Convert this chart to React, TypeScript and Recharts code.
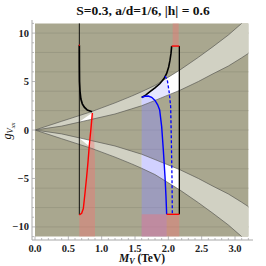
import React from "react";
import { ComposedChart, Area, Line, XAxis, YAxis } from "recharts";

// plot region and background mesh
const plotX = [0, 3.2];
const plotLo = [-11, -11];
const plotHi = [11, 11];
const gridY = [-10, -8, -6, -4, -2, 0, 2, 4, 6, 8, 10];

// light bands (upper and lower)
const bandX = [0, 0.4, 0.85, 1.2, 1.45, 1.6, 1.8, 2.175, 2.45, 2.67, 2.9, 3.1, 3.2];
const upOuter = [0, 0.9, 1.9, 2.8, 3.5, 3.95, 4.6, 6.2, 7.5, 8.6, 9.8, 11, 11];
const upInner = [0, 0.4, 1.1, 1.65, 2.18, 2.5, 3.05, 4.1, 5.0, 5.8, 6.6, 7.45, 7.9];
const lowOuter = [0, -0.9, -1.9, -2.8, -3.5, -3.95, -4.6, -6.2, -7.5, -8.6, -9.8, -11, -11];
const lowInner = [0, -0.4, -1.1, -1.65, -2.18, -2.5, -3.05, -4.1, -5.0, -5.8, -6.6, -7.45, -7.9];

// left structure (M_V ~ 0.67 TeV)
const lWedgeUpX = [0.665, 0.855];
const lWedgeUpLo = [0.81, 1.1];
const lWedgeUpHi = [0.85, 1.75];
const lWedgeDnX = [0.665, 0.82];
const lWedgeDnLo = [-0.85, -1.7];
const lWedgeDnHi = [-0.81, -1.05];
const redX = [0.665, 0.7, 0.725, 0.75, 0.775, 0.795, 0.815, 0.84, 0.86];
const redY = [-8.75, -8.6, -8.1, -6.5, -4.8, -3.3, -1.55, 0.2, 1.75];
const pinkLX = [0.665, 0.7, 0.725, 0.75, 0.775, 0.795, 0.815, 0.84, 0.86, 0.875, 0.9, 0.9];
const pinkLHi = [-8.75, -8.6, -8.1, -6.5, -4.8, -3.3, -1.55, 0.2, 1.75, 1.75, -3.3, -11];
const pinkLLo = [-11, -11, -11, -11, -11, -11, -11, -11, -11, -11, -11, -11];
const lBlackX = [0.665, 0.666, 0.668, 0.675, 0.688, 0.71, 0.74, 0.785, 0.855];
const lBlackY = [8.75, 6.5, 5.0, 4.0, 3.2, 2.7, 2.35, 2.06, 1.88];
const lVertX = [0.665, 0.665];
const lVertY = [11, -8.75];
const lRedTopX = [0.658, 0.672];
const lRedTopY = [8.75, 8.75];

// right structure (M_V ~ 1.6 - 2.17 TeV)
const rWhiteUpX = [1.6, 1.725, 1.875, 1.9, 2.05, 2.165];
const rWhiteUpLo = [2.5, 2.84, 3.26, 3.33, 3.75, 4.07];
const rWhiteUpHi = [3.36, 3.95, 4.8, 5.0, 5.65, 6.15];
const rWhiteDnX = [1.6, 1.8, 2.0, 2.165];
const rWhiteDnLo = [-3.95, -4.6, -5.45, -6.15];
const rWhiteDnHi = [-2.5, -3.05, -3.6, -4.07];
const lavX = [1.6, 1.7, 1.75, 1.8, 1.875, 1.95, 1.985, 2.015];
const lavLo = [3.36, 3.5, 3.38, 3.05, 3.26, 3.47, 3.57, 3.66];
const lavHi = [3.36, 3.85, 4.1, 4.35, 4.8, 5.2, 5.15, 3.8];
const blueX = [1.6, 1.65, 1.7, 1.75, 1.8, 1.84, 1.87, 1.9, 1.925, 1.95, 1.965, 1.975];
const blueY = [3.36, 3.48, 3.5, 3.38, 3.05, 2.6, 2.06, 0.35, -2.06, -4.8, -6.9, -8.7];
const blueLo = [-11, -11, -11, -11, -11, -11, -11, -11, -11, -11, -11, -11];
const dashX = [1.95, 1.985, 2.015, 2.035, 2.045, 2.055, 2.06];
const dashY = [5.57, 5.15, 3.8, 2.4, -1.0, -5.0, -8.7];
const rBlackX = [1.6, 1.66, 1.725, 1.8, 1.875, 1.935, 1.975, 2.005, 2.025, 2.04, 2.05];
const rBlackY = [3.36, 3.6, 3.95, 4.35, 4.8, 5.3, 5.84, 6.5, 7.2, 7.9, 8.66];
const rVertX = [2.165, 2.165];
const rVertY = [8.66, -8.7];
const rRedTopX = [2.05, 2.165];
const rRedTopY = [8.66, 8.66];
const rRedBotX = [1.975, 2.165];
const rRedBotY = [-8.7, -8.7];
const pinkTopX = [2.065, 2.155];
const pinkTopLo = [8.66, 8.66];
const pinkTopHi = [11, 11];
const pinkBotX = [1.6, 2.165];
const pinkBotLo = [-11, -11];
const pinkBotHi = [-8.7, -8.7];

// ticks
const xTicks = [0, 0.1, 0.2, 0.3, 0.4, 0.5, 0.6, 0.7, 0.8, 0.9, 1, 1.1, 1.2, 1.3, 1.4, 1.5, 1.6, 1.7, 1.8, 1.9, 2, 2.1, 2.2, 2.3, 2.4, 2.5, 2.6, 2.7, 2.8, 2.9, 3, 3.1, 3.2];
const xMajor = [0, 0.5, 1, 1.5, 2, 2.5, 3];
const yTicks = [-11, -10, -9, -8, -7, -6, -5, -4, -3, -2, -1, 0, 1, 2, 3, 4, 5, 6, 7, 8, 9, 10, 11];
const yMajor = [-10, -5, 0, 5, 10];

const BG = "#a9a78f";
const GRID = "#979580";
const BAND = "#d1d1c3";
const EDGE = "#5a5a55";
const FRAME = "#a8a8a8";
const FONT = "'Liberation Serif', 'DejaVu Serif', serif";

const pts = (xs: number[], ys: number[]) => xs.map((x, i) => ({ x, y: ys[i] }));
const rng = (xs: number[], lo: number[], hi: number[]) => xs.map((x, i) => ({ x, r: [lo[i], hi[i]] }));

const fillArea = (key: string, data: any[], fill: string, opacity = 1, z = 103) => (
  <Area key={key} data={data} dataKey="r" type="linear" stroke="none" fill={fill} fillOpacity={opacity}
    isAnimationActive={false} dot={false} activeDot={false} zIndex={z} />
);

const line = (key: string, data: any[], stroke: string, width: number, z = 110, dash?: string) => (
  <Line key={key} data={data} dataKey="y" type="linear" stroke={stroke} strokeWidth={width}
    strokeDasharray={dash} dot={false} activeDot={false} isAnimationActive={false} zIndex={z} />
);

const fmtY = (v: number) => (v < 0 ? "\u2212" + Math.abs(v) : String(v));

function BottomTick(props: any) {
  const { x, y, payload } = props;
  const major = xMajor.includes(payload.value);
  return (
    <g>
      <line x1={x} x2={x} y1={y} y2={y - (major ? 4 : 2)} stroke={FRAME} strokeWidth={0.8} />
      {major && (
        <text x={x} y={y + 12} textAnchor="middle" fontFamily={FONT} fontWeight="bold" fontSize={10.5} fill="#222">
          {payload.value.toFixed(1)}
        </text>
      )}
    </g>
  );
}

function TopTick(props: any) {
  const { x, y, payload } = props;
  const major = xMajor.includes(payload.value);
  return <line x1={x} x2={x} y1={y} y2={y + (major ? 4 : 2)} stroke={FRAME} strokeWidth={0.8} />;
}

function LeftTick(props: any) {
  const { x, y, payload } = props;
  const major = yMajor.includes(payload.value);
  return (
    <g>
      <line x1={x} x2={x + (major ? 4 : 2)} y1={y} y2={y} stroke={FRAME} strokeWidth={0.8} />
      {major && (
        <text x={x - 3} y={y + 3.5} textAnchor="end" fontFamily={FONT} fontWeight="bold" fontSize={10.5} fill="#222">
          {fmtY(payload.value)}
        </text>
      )}
    </g>
  );
}

function RightTick(props: any) {
  const { x, y, payload } = props;
  const major = yMajor.includes(payload.value);
  return <line x1={x} x2={x - (major ? 4 : 2)} y1={y} y2={y} stroke={FRAME} strokeWidth={0.8} />;
}

export default function App() {
  return (
    <div style={{ position: "absolute", left: 0, top: 0, width: 266, height: 266, background: "#fff" }}>
      <ComposedChart width={266} height={266} margin={{ top: 20, right: 13, bottom: 0, left: 0 }}>
        <XAxis dataKey="x" type="number" domain={[-0.045, 3.27]} allowDataOverflow ticks={xTicks}
          height={26} tickSize={0} tickMargin={0} tick={<BottomTick />} axisLine={{ stroke: FRAME }} tickLine={false} interval={0} />
        <XAxis xAxisId="top" orientation="top" dataKey="x" type="number" domain={[-0.045, 3.27]} allowDataOverflow
          ticks={xTicks} height={0} tickSize={0} tickMargin={0} tick={<TopTick />} axisLine={{ stroke: FRAME }} tickLine={false} interval={0} />
        <YAxis type="number" domain={[-11.35, 11.35]} allowDataOverflow ticks={yTicks} width={32}
          tickSize={0} tickMargin={0} tick={<LeftTick />} axisLine={{ stroke: FRAME }} tickLine={false} interval={0} />
        <YAxis yAxisId="right" orientation="right" type="number" domain={[-11.35, 11.35]} allowDataOverflow ticks={yTicks}
          width={0} tickSize={0} tickMargin={0} tick={<RightTick />} axisLine={{ stroke: FRAME }} tickLine={false} interval={0} />

        {fillArea("bg", rng(plotX, plotLo, plotHi), BG, 1, 101)}
        {gridY.map((g) => line("grid" + g, pts(plotX, [g, g]), GRID, 0.8, 102))}

        {fillArea("bandUp", rng(bandX, upInner, upOuter), BAND, 1, 103)}
        {fillArea("bandDn", rng(bandX, lowOuter, lowInner), BAND, 1, 103)}

        {fillArea("wUpL", rng(lWedgeUpX, lWedgeUpLo, lWedgeUpHi), "#ffffff", 1, 104)}
        {fillArea("wDnL", rng(lWedgeDnX, lWedgeDnLo, lWedgeDnHi), "#ffffff", 1, 104)}
        {fillArea("wUpR", rng(rWhiteUpX, rWhiteUpLo, rWhiteUpHi), "#ffffff", 1, 104)}
        {fillArea("wDnR", rng(rWhiteDnX, rWhiteDnLo, rWhiteDnHi), "#ffffff", 1, 104)}

        {fillArea("lav", rng(lavX, lavLo, lavHi), "#8c8cff", 0.22, 105)}
        {fillArea("blue", rng(blueX, blueLo, blueY), "#8c8cff", 0.4, 105)}
        {fillArea("pinkL", rng(pinkLX, pinkLLo, pinkLHi), "#ff6e6e", 0.35, 106)}
        {fillArea("pinkT", rng(pinkTopX, pinkTopLo, pinkTopHi), "#ff6e6e", 0.35, 106)}
        {fillArea("pinkB", rng(pinkBotX, pinkBotLo, pinkBotHi), "#ff6e6e", 0.35, 106)}

        {line("upOut", pts(bandX.slice(0, -1), upOuter.slice(0, -1)), EDGE, 0.7, 107)}
        {line("upIn", pts(bandX, upInner), EDGE, 0.7, 107)}
        {line("dnOut", pts(bandX.slice(0, -1), lowOuter.slice(0, -1)), EDGE, 0.7, 107)}
        {line("dnIn", pts(bandX, lowInner), EDGE, 0.7, 107)}

        {line("lVert", pts(lVertX, lVertY), "#000", 0.9, 108)}
        {line("lBlack", pts(lBlackX, lBlackY), "#000", 1.7, 108)}
        {line("red", pts(redX, redY), "#ff0000", 1.4, 109)}
        {line("lRedTop", pts(lRedTopX, lRedTopY), "#ff0000", 1.4, 109)}

        {line("rVert", pts(rVertX, rVertY), "#000", 1.3, 108)}
        {line("rBlack", pts(rBlackX, rBlackY), "#000", 1.6, 108)}
        {line("blueL", pts(blueX, blueY), "#0000ff", 1.4, 109)}
        {line("dash", pts(dashX, dashY), "#0000ff", 1.3, 109, "3 2")}
        {line("rRedTop", pts(rRedTopX, rRedTopY), "#ff0000", 1.4, 110)}
        {line("rRedBot", pts(rRedBotX, rRedBotY), "#ff0000", 1.4, 110)}
      </ComposedChart>
      <svg width={266} height={266} style={{ position: "absolute", left: 0, top: 0, pointerEvents: "none" }}>
        <text x={143} y={15} textAnchor="middle" fontFamily={FONT} fontWeight="bold" fontSize={13.5} fill="#111">
          S=0.3, a/d=1/6, |h| = 0.6
        </text>
        <text x={142} y={262} textAnchor="middle" fontFamily={FONT} fontWeight="bold" fontSize={11.5} fill="#111">
          <tspan fontStyle="italic">M</tspan>
          <tspan fontStyle="italic" fontSize={8} dy={2}>V</tspan>
          <tspan dy={-2}> (TeV)</tspan>
        </text>
        <text transform="translate(11,131) rotate(-90)" textAnchor="middle" fontFamily={FONT} fontSize={12} fill="#111">
          <tspan fontStyle="italic">g</tspan>
          <tspan fontStyle="italic" fontSize={8.5} dy={2}>V</tspan>
          <tspan fontStyle="italic" fontSize={6.5} dy={1.5}>xx</tspan>
        </text>
      </svg>
    </div>
  );
}
